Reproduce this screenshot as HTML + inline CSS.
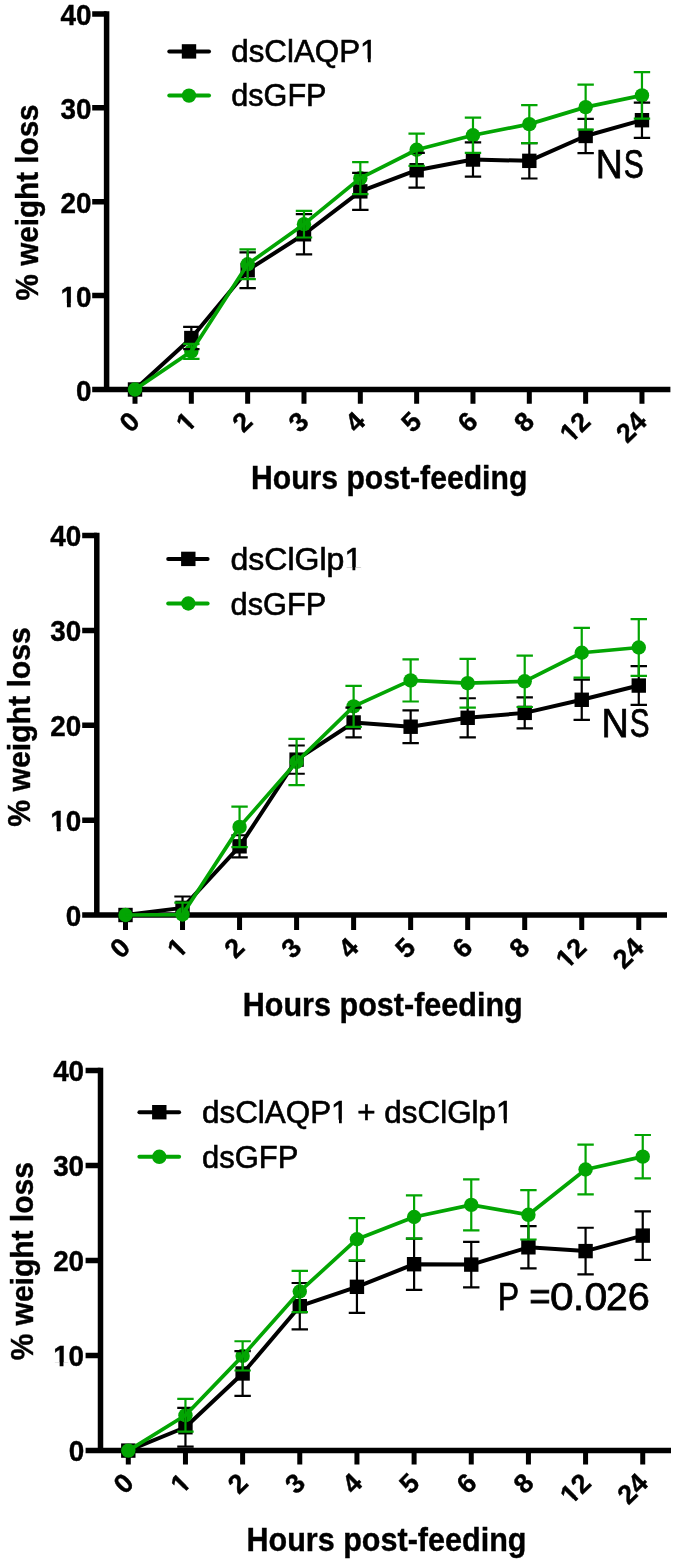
<!DOCTYPE html>
<html><head><meta charset="utf-8"><title>Weight loss</title>
<style>
html,body{margin:0;padding:0;background:#fff;}
body{width:675px;height:1564px;overflow:hidden;}
svg{display:block;will-change:transform;}
text{font-family:"Liberation Sans",sans-serif;fill:#000;stroke:#000;stroke-width:0.6px;}
text.b{font-weight:bold;stroke-width:0.4px;}
text.n{stroke-width:0.75px;}
</style></head>
<body>
<svg width="675" height="1564" viewBox="0 0 675 1564">
<rect width="675" height="1564" fill="#fff"/>
<path d="M106.6 11.15V392.25M92.2 389.5H670.4" stroke="#000" stroke-width="5.5" fill="none"/>
<path d="M92.2 295.6H106.6M92.2 201.7H106.6M92.2 107.8H106.6M92.2 13.9H106.6" stroke="#000" stroke-width="5.5"/>
<path d="M135 389.5V403.8M191.33 389.5V403.8M247.66 389.5V403.8M303.99 389.5V403.8M360.32 389.5V403.8M416.65 389.5V403.8M472.98 389.5V403.8M529.31 389.5V403.8M585.64 389.5V403.8M641.97 389.5V403.8" stroke="#000" stroke-width="5"/>
<text x="75.94" y="400.6" class="b" font-size="29.5" textLength="15.5" lengthAdjust="spacingAndGlyphs">0</text>
<text x="60.44" y="306.7" class="b" font-size="29.5" textLength="31.01" lengthAdjust="spacingAndGlyphs">10</text>
<rect x="60.99" y="302.89" width="5.95" height="5.61" fill="#fff"/>
<rect x="70.77" y="302.89" width="5.5" height="5.61" fill="#fff"/>
<text x="60.44" y="212.8" class="b" font-size="29.5" textLength="31.01" lengthAdjust="spacingAndGlyphs">20</text>
<text x="60.44" y="118.9" class="b" font-size="29.5" textLength="31.01" lengthAdjust="spacingAndGlyphs">30</text>
<text x="60.44" y="25" class="b" font-size="29.5" textLength="31.01" lengthAdjust="spacingAndGlyphs">40</text>
<g transform="translate(141.5 423) rotate(-45)"><text class="b" font-size="27" text-anchor="end">0</text>
</g>
<g transform="translate(197.83 423) rotate(-45)"><text class="b" font-size="27" text-anchor="end">1</text>
<rect x="-14.52" y="-3.56" width="5.8" height="5.36" fill="#fff"/>
<rect x="-5.01" y="-3.56" width="5.36" height="5.36" fill="#fff"/>
</g>
<g transform="translate(254.16 423) rotate(-45)"><text class="b" font-size="27" text-anchor="end">2</text>
</g>
<g transform="translate(310.49 423) rotate(-45)"><text class="b" font-size="27" text-anchor="end">3</text>
</g>
<g transform="translate(366.82 423) rotate(-45)"><text class="b" font-size="27" text-anchor="end">4</text>
</g>
<g transform="translate(423.15 423) rotate(-45)"><text class="b" font-size="27" text-anchor="end">5</text>
</g>
<g transform="translate(479.48 423) rotate(-45)"><text class="b" font-size="27" text-anchor="end">6</text>
</g>
<g transform="translate(535.81 423) rotate(-45)"><text class="b" font-size="27" text-anchor="end">8</text>
</g>
<g transform="translate(592.14 423) rotate(-45)"><text class="b" font-size="27" text-anchor="end">12</text>
<rect x="-29.53" y="-3.56" width="5.8" height="5.36" fill="#fff"/>
<rect x="-20.03" y="-3.56" width="5.36" height="5.36" fill="#fff"/>
</g>
<g transform="translate(648.47 423) rotate(-45)"><text class="b" font-size="27" text-anchor="end">24</text>
</g>
<text x="250.98" y="488.8" class="b" font-size="33" textLength="276.33" lengthAdjust="spacingAndGlyphs">Hours post-feeding</text>
<text x="0" y="0" class="b" font-size="30.6" textLength="196.05" lengthAdjust="spacingAndGlyphs" transform="translate(37.7 300.44) rotate(-90)">% weight loss</text>
<path d="M169.3 51.4H209" stroke="#000" stroke-width="4.0" stroke-linecap="round"/>
<rect x="181.8" y="44.2" width="14.4" height="14.4" fill="#000"/>
<text x="231.29" y="61.8" font-size="30.6" textLength="146.19" lengthAdjust="spacingAndGlyphs">dsClAQP1</text>
<rect x="361.24" y="58.71" width="6.69" height="4.89" fill="#fff"/>
<rect x="370.7" y="58.71" width="6.34" height="4.89" fill="#fff"/>
<path d="M169.3 95.6H209" stroke="#03a503" stroke-width="4.0" stroke-linecap="round"/>
<circle cx="189" cy="95.6" r="7.2" fill="#03a503"/>
<text x="231.32" y="106.2" font-size="30.6" textLength="95.2" lengthAdjust="spacingAndGlyphs">dsGFP</text>
<polyline points="135,389.5 191.33,338.04 247.66,270.25 303.99,234.28 360.32,191.37 416.65,170.24 472.98,159.54 529.31,160.85 585.64,135.97 641.97,120.19" stroke="#000" stroke-width="4.0" fill="none" stroke-linejoin="round"/>
<rect x="127.8" y="382.3" width="14.4" height="14.4" fill="#000"/>
<rect x="184.13" y="330.84" width="14.4" height="14.4" fill="#000"/>
<rect x="240.46" y="263.05" width="14.4" height="14.4" fill="#000"/>
<rect x="296.79" y="227.08" width="14.4" height="14.4" fill="#000"/>
<rect x="353.12" y="184.17" width="14.4" height="14.4" fill="#000"/>
<rect x="409.45" y="163.04" width="14.4" height="14.4" fill="#000"/>
<rect x="465.78" y="152.34" width="14.4" height="14.4" fill="#000"/>
<rect x="522.11" y="153.65" width="14.4" height="14.4" fill="#000"/>
<rect x="578.44" y="128.77" width="14.4" height="14.4" fill="#000"/>
<rect x="634.77" y="112.99" width="14.4" height="14.4" fill="#000"/>
<circle cx="135" cy="389.5" r="7.2" fill="#03a503"/>
<circle cx="191.33" cy="351.38" r="7.2" fill="#03a503"/>
<circle cx="247.66" cy="264.24" r="7.2" fill="#03a503"/>
<circle cx="303.99" cy="224.14" r="7.2" fill="#03a503"/>
<circle cx="360.32" cy="178.13" r="7.2" fill="#03a503"/>
<circle cx="416.65" cy="149.77" r="7.2" fill="#03a503"/>
<circle cx="472.98" cy="135.22" r="7.2" fill="#03a503"/>
<circle cx="529.31" cy="124.14" r="7.2" fill="#03a503"/>
<circle cx="585.64" cy="107.14" r="7.2" fill="#03a503"/>
<circle cx="641.97" cy="95.41" r="7.2" fill="#03a503"/>
<path d="M191.33 326.87V349.22M183.13 326.87h16.4M183.13 349.22h16.4M247.66 252.41V288.09M239.46 252.41h16.4M239.46 288.09h16.4M303.99 214.09V254.47M295.79 214.09h16.4M295.79 254.47h16.4M360.32 172.78V209.96M352.12 172.78h16.4M352.12 209.96h16.4M416.65 152.87V187.61M408.45 152.87h16.4M408.45 187.61h16.4M472.98 142.45V176.63M464.78 142.45h16.4M464.78 176.63h16.4M529.31 143.2V178.51M521.11 143.2h16.4M521.11 178.51h16.4M585.64 118.88V153.06M577.44 118.88h16.4M577.44 153.06h16.4M641.97 102.54V137.85M633.77 102.54h16.4M633.77 137.85h16.4" stroke="#000" stroke-width="2.2" fill="none"/>
<path d="M191.33 343.96V358.79M183.13 343.96h16.4M183.13 358.79h16.4M247.66 249.4V279.07M239.46 249.4h16.4M239.46 279.07h16.4M303.99 210.81V237.48M295.79 210.81h16.4M295.79 237.48h16.4M360.32 162.07V194.19M352.12 162.07h16.4M352.12 194.19h16.4M416.65 133.72V165.83M408.45 133.72h16.4M408.45 165.83h16.4M472.98 117.66V152.78M464.78 117.66h16.4M464.78 152.78h16.4M529.31 105.08V143.2M521.11 105.08h16.4M521.11 143.2h16.4M585.64 84.61V129.68M577.44 84.61h16.4M577.44 129.68h16.4M641.97 72.21V118.6M633.77 72.21h16.4M633.77 118.6h16.4" stroke="#03a503" stroke-width="2.2" fill="none"/>
<polyline points="135,389.5 191.33,351.38 247.66,264.24 303.99,224.14 360.32,178.13 416.65,149.77 472.98,135.22 529.31,124.14 585.64,107.14 641.97,95.41" stroke="#03a503" stroke-width="3.7" fill="none" stroke-linejoin="round"/>
<text class="n" y="177.8" font-size="40"><tspan x="595.83" textLength="27.02" lengthAdjust="spacingAndGlyphs">N</tspan><tspan x="623.74" textLength="20.04" lengthAdjust="spacingAndGlyphs">S</tspan></text>
<path d="M96.8 532.85V917.75M82.2 915H667" stroke="#000" stroke-width="5.5" fill="none"/>
<path d="M82.2 820.15H96.8M82.2 725.3H96.8M82.2 630.45H96.8M82.2 535.6H96.8" stroke="#000" stroke-width="5.5"/>
<path d="M125.5 915V930M182.53 915V930M239.56 915V930M296.59 915V930M353.62 915V930M410.65 915V930M467.68 915V930M524.71 915V930M581.74 915V930M638.77 915V930" stroke="#000" stroke-width="5"/>
<text x="65.84" y="925.6" class="b" font-size="29.5" textLength="15.5" lengthAdjust="spacingAndGlyphs">0</text>
<text x="50.34" y="830.75" class="b" font-size="29.5" textLength="31.01" lengthAdjust="spacingAndGlyphs">10</text>
<rect x="50.89" y="826.94" width="5.95" height="5.61" fill="#fff"/>
<rect x="60.67" y="826.94" width="5.5" height="5.61" fill="#fff"/>
<text x="50.34" y="735.9" class="b" font-size="29.5" textLength="31.01" lengthAdjust="spacingAndGlyphs">20</text>
<text x="50.34" y="641.05" class="b" font-size="29.5" textLength="31.01" lengthAdjust="spacingAndGlyphs">30</text>
<text x="50.34" y="546.2" class="b" font-size="29.5" textLength="31.01" lengthAdjust="spacingAndGlyphs">40</text>
<g transform="translate(132 949) rotate(-45)"><text class="b" font-size="27" text-anchor="end">0</text>
</g>
<g transform="translate(189.03 949) rotate(-45)"><text class="b" font-size="27" text-anchor="end">1</text>
<rect x="-14.52" y="-3.56" width="5.8" height="5.36" fill="#fff"/>
<rect x="-5.01" y="-3.56" width="5.36" height="5.36" fill="#fff"/>
</g>
<g transform="translate(246.06 949) rotate(-45)"><text class="b" font-size="27" text-anchor="end">2</text>
</g>
<g transform="translate(303.09 949) rotate(-45)"><text class="b" font-size="27" text-anchor="end">3</text>
</g>
<g transform="translate(360.12 949) rotate(-45)"><text class="b" font-size="27" text-anchor="end">4</text>
</g>
<g transform="translate(417.15 949) rotate(-45)"><text class="b" font-size="27" text-anchor="end">5</text>
</g>
<g transform="translate(474.18 949) rotate(-45)"><text class="b" font-size="27" text-anchor="end">6</text>
</g>
<g transform="translate(531.21 949) rotate(-45)"><text class="b" font-size="27" text-anchor="end">8</text>
</g>
<g transform="translate(588.24 949) rotate(-45)"><text class="b" font-size="27" text-anchor="end">12</text>
<rect x="-29.53" y="-3.56" width="5.8" height="5.36" fill="#fff"/>
<rect x="-20.03" y="-3.56" width="5.36" height="5.36" fill="#fff"/>
</g>
<g transform="translate(645.27 949) rotate(-45)"><text class="b" font-size="27" text-anchor="end">24</text>
</g>
<text x="242.76" y="1016.1" class="b" font-size="33.3" textLength="279.99" lengthAdjust="spacingAndGlyphs">Hours post-feeding</text>
<text x="0" y="0" class="b" font-size="31.7" textLength="199.59" lengthAdjust="spacingAndGlyphs" transform="translate(30 826.75) rotate(-90)">% weight loss</text>
<path d="M168.2 558.9H207.6" stroke="#000" stroke-width="4.0" stroke-linecap="round"/>
<rect x="181.1" y="551.7" width="14.4" height="14.4" fill="#000"/>
<text x="230.56" y="570.3" font-size="30.6" textLength="131.67" lengthAdjust="spacingAndGlyphs">dsClGlp1</text>
<rect x="345.66" y="567.21" width="6.81" height="4.89" fill="#fff"/>
<rect x="355.3" y="567.21" width="6.46" height="4.89" fill="#fff"/>
<path d="M168.2 603.5H207.6" stroke="#03a503" stroke-width="4.0" stroke-linecap="round"/>
<circle cx="188.3" cy="603.5" r="7.2" fill="#03a503"/>
<text x="230.61" y="614.8" font-size="30.6" textLength="95.71" lengthAdjust="spacingAndGlyphs">dsGFP</text>
<polyline points="125.5,915 182.53,907.89 239.56,846.33 296.59,759.64 353.62,722.45 410.65,726.72 467.68,717.81 524.71,712.87 581.74,699.79 638.77,685.56" stroke="#000" stroke-width="4.0" fill="none" stroke-linejoin="round"/>
<rect x="118.3" y="907.8" width="14.4" height="14.4" fill="#000"/>
<rect x="175.33" y="900.69" width="14.4" height="14.4" fill="#000"/>
<rect x="232.36" y="839.13" width="14.4" height="14.4" fill="#000"/>
<rect x="289.39" y="752.44" width="14.4" height="14.4" fill="#000"/>
<rect x="346.42" y="715.25" width="14.4" height="14.4" fill="#000"/>
<rect x="403.45" y="719.52" width="14.4" height="14.4" fill="#000"/>
<rect x="460.48" y="710.61" width="14.4" height="14.4" fill="#000"/>
<rect x="517.51" y="705.67" width="14.4" height="14.4" fill="#000"/>
<rect x="574.54" y="692.59" width="14.4" height="14.4" fill="#000"/>
<rect x="631.57" y="678.36" width="14.4" height="14.4" fill="#000"/>
<circle cx="125.5" cy="915" r="7.2" fill="#03a503"/>
<circle cx="182.53" cy="914.53" r="7.2" fill="#03a503"/>
<circle cx="239.56" cy="826.88" r="7.2" fill="#03a503"/>
<circle cx="296.59" cy="762.01" r="7.2" fill="#03a503"/>
<circle cx="353.62" cy="706.33" r="7.2" fill="#03a503"/>
<circle cx="410.65" cy="680.44" r="7.2" fill="#03a503"/>
<circle cx="467.68" cy="683.19" r="7.2" fill="#03a503"/>
<circle cx="524.71" cy="681.29" r="7.2" fill="#03a503"/>
<circle cx="581.74" cy="652.74" r="7.2" fill="#03a503"/>
<circle cx="638.77" cy="647.52" r="7.2" fill="#03a503"/>
<path d="M182.53 896.5V915M174.33 896.5h16.4M239.56 835.23V857.43M231.36 835.23h16.4M231.36 857.43h16.4M296.59 745.5V773.77M288.39 745.5h16.4M288.39 773.77h16.4M353.62 707.56V737.35M345.42 707.56h16.4M345.42 737.35h16.4M410.65 710.41V743.04M402.45 710.41h16.4M402.45 743.04h16.4M467.68 698.27V737.35M459.48 698.27h16.4M459.48 737.35h16.4M524.71 697.41V728.34M516.51 697.41h16.4M516.51 728.34h16.4M581.74 679.68V719.89M573.54 679.68h16.4M573.54 719.89h16.4M638.77 666.21V704.91M630.57 666.21h16.4M630.57 704.91h16.4" stroke="#000" stroke-width="2.2" fill="none"/>
<path d="M182.53 902.67V915M174.33 902.67h16.4M239.56 806.68V847.09M231.36 806.68h16.4M231.36 847.09h16.4M296.59 738.86V785.15M288.39 738.86h16.4M288.39 785.15h16.4M353.62 685.84V726.82M345.42 685.84h16.4M345.42 726.82h16.4M410.65 659.38V701.49M402.45 659.38h16.4M402.45 701.49h16.4M467.68 658.81V707.56M459.48 658.81h16.4M459.48 707.56h16.4M524.71 655.59V706.99M516.51 655.59h16.4M516.51 706.99h16.4M581.74 627.89V677.59M573.54 627.89h16.4M573.54 677.59h16.4M638.77 619.16V675.88M630.57 619.16h16.4M630.57 675.88h16.4" stroke="#03a503" stroke-width="2.2" fill="none"/>
<polyline points="125.5,915 182.53,914.53 239.56,826.88 296.59,762.01 353.62,706.33 410.65,680.44 467.68,683.19 524.71,681.29 581.74,652.74 638.77,647.52" stroke="#03a503" stroke-width="3.7" fill="none" stroke-linejoin="round"/>
<text class="n" y="737.3" font-size="40"><tspan x="601.5" textLength="27.28" lengthAdjust="spacingAndGlyphs">N</tspan><tspan x="629.85" textLength="19.81" lengthAdjust="spacingAndGlyphs">S</tspan></text>
<path d="M100.5 1067.85V1453.35M85.6 1450.6H671" stroke="#000" stroke-width="5.5" fill="none"/>
<path d="M85.6 1355.6H100.5M85.6 1260.6H100.5M85.6 1165.6H100.5M85.6 1070.6H100.5" stroke="#000" stroke-width="5.5"/>
<path d="M128.3 1450.6V1464.4M185.46 1450.6V1464.4M242.62 1450.6V1464.4M299.78 1450.6V1464.4M356.94 1450.6V1464.4M414.1 1450.6V1464.4M471.26 1450.6V1464.4M528.42 1450.6V1464.4M585.58 1450.6V1464.4M642.74 1450.6V1464.4" stroke="#000" stroke-width="5"/>
<text x="68.64" y="1461.2" class="b" font-size="29.5" textLength="15.5" lengthAdjust="spacingAndGlyphs">0</text>
<text x="53.14" y="1366.2" class="b" font-size="29.5" textLength="31.01" lengthAdjust="spacingAndGlyphs">10</text>
<rect x="53.69" y="1362.39" width="5.95" height="5.61" fill="#fff"/>
<rect x="63.47" y="1362.39" width="5.5" height="5.61" fill="#fff"/>
<text x="53.14" y="1271.2" class="b" font-size="29.5" textLength="31.01" lengthAdjust="spacingAndGlyphs">20</text>
<text x="53.14" y="1176.2" class="b" font-size="29.5" textLength="31.01" lengthAdjust="spacingAndGlyphs">30</text>
<text x="53.14" y="1081.2" class="b" font-size="29.5" textLength="31.01" lengthAdjust="spacingAndGlyphs">40</text>
<g transform="translate(135.3 1484.6) rotate(-45)"><text class="b" font-size="27" text-anchor="end">0</text>
</g>
<g transform="translate(192.46 1484.6) rotate(-45)"><text class="b" font-size="27" text-anchor="end">1</text>
<rect x="-14.52" y="-3.56" width="5.8" height="5.36" fill="#fff"/>
<rect x="-5.01" y="-3.56" width="5.36" height="5.36" fill="#fff"/>
</g>
<g transform="translate(249.62 1484.6) rotate(-45)"><text class="b" font-size="27" text-anchor="end">2</text>
</g>
<g transform="translate(306.78 1484.6) rotate(-45)"><text class="b" font-size="27" text-anchor="end">3</text>
</g>
<g transform="translate(363.94 1484.6) rotate(-45)"><text class="b" font-size="27" text-anchor="end">4</text>
</g>
<g transform="translate(421.1 1484.6) rotate(-45)"><text class="b" font-size="27" text-anchor="end">5</text>
</g>
<g transform="translate(478.26 1484.6) rotate(-45)"><text class="b" font-size="27" text-anchor="end">6</text>
</g>
<g transform="translate(535.42 1484.6) rotate(-45)"><text class="b" font-size="27" text-anchor="end">8</text>
</g>
<g transform="translate(592.58 1484.6) rotate(-45)"><text class="b" font-size="27" text-anchor="end">12</text>
<rect x="-29.53" y="-3.56" width="5.8" height="5.36" fill="#fff"/>
<rect x="-20.03" y="-3.56" width="5.36" height="5.36" fill="#fff"/>
</g>
<g transform="translate(649.74 1484.6) rotate(-45)"><text class="b" font-size="27" text-anchor="end">24</text>
</g>
<text x="246.46" y="1551.3" class="b" font-size="33.3" textLength="279.99" lengthAdjust="spacingAndGlyphs">Hours post-feeding</text>
<text x="0" y="0" class="b" font-size="31.5" textLength="198.18" lengthAdjust="spacingAndGlyphs" transform="translate(33.3 1360.35) rotate(-90)">% weight loss</text>
<path d="M139.4 1112.2H179.1" stroke="#000" stroke-width="4.0" stroke-linecap="round"/>
<rect x="152.1" y="1105" width="14.4" height="14.4" fill="#000"/>
<text x="201.98" y="1122.7" font-size="30.6" textLength="311.51" lengthAdjust="spacingAndGlyphs">dsClAQP1 + dsClGlp1</text>
<rect x="332.3" y="1119.61" width="6.7" height="4.89" fill="#fff"/>
<rect x="341.78" y="1119.61" width="6.36" height="4.89" fill="#fff"/>
<rect x="497.22" y="1119.61" width="6.7" height="4.89" fill="#fff"/>
<rect x="506.7" y="1119.61" width="6.36" height="4.89" fill="#fff"/>
<path d="M139.4 1156.8H179.1" stroke="#03a503" stroke-width="4.0" stroke-linecap="round"/>
<circle cx="159.3" cy="1156.8" r="7.2" fill="#03a503"/>
<text x="202" y="1167.7" font-size="30.6" textLength="96.33" lengthAdjust="spacingAndGlyphs">dsGFP</text>
<polyline points="128.3,1450.6 185.46,1427.23 242.62,1373.46 299.78,1306.2 356.94,1286.82 414.1,1264.21 471.26,1264.59 528.42,1247.3 585.58,1251.1 642.74,1235.62" stroke="#000" stroke-width="4.0" fill="none" stroke-linejoin="round"/>
<rect x="121.1" y="1443.4" width="14.4" height="14.4" fill="#000"/>
<rect x="178.26" y="1420.03" width="14.4" height="14.4" fill="#000"/>
<rect x="235.42" y="1366.26" width="14.4" height="14.4" fill="#000"/>
<rect x="292.58" y="1299" width="14.4" height="14.4" fill="#000"/>
<rect x="349.74" y="1279.62" width="14.4" height="14.4" fill="#000"/>
<rect x="406.9" y="1257.01" width="14.4" height="14.4" fill="#000"/>
<rect x="464.06" y="1257.39" width="14.4" height="14.4" fill="#000"/>
<rect x="521.22" y="1240.1" width="14.4" height="14.4" fill="#000"/>
<rect x="578.38" y="1243.9" width="14.4" height="14.4" fill="#000"/>
<rect x="635.54" y="1228.41" width="14.4" height="14.4" fill="#000"/>
<circle cx="128.3" cy="1450.6" r="7.2" fill="#03a503"/>
<circle cx="185.46" cy="1415.26" r="7.2" fill="#03a503"/>
<circle cx="242.62" cy="1355.88" r="7.2" fill="#03a503"/>
<circle cx="299.78" cy="1291.47" r="7.2" fill="#03a503"/>
<circle cx="356.94" cy="1239.22" r="7.2" fill="#03a503"/>
<circle cx="414.1" cy="1216.99" r="7.2" fill="#03a503"/>
<circle cx="471.26" cy="1204.83" r="7.2" fill="#03a503"/>
<circle cx="528.42" cy="1214.81" r="7.2" fill="#03a503"/>
<circle cx="585.58" cy="1169.49" r="7.2" fill="#03a503"/>
<circle cx="642.74" cy="1156.67" r="7.2" fill="#03a503"/>
<path d="M185.46 1407.85V1446.61M177.26 1407.85h16.4M177.26 1446.61h16.4M242.62 1351.04V1395.88M234.42 1351.04h16.4M234.42 1395.88h16.4M299.78 1283.02V1329.38M291.58 1283.02h16.4M291.58 1329.38h16.4M356.94 1260.79V1312.85M348.74 1260.79h16.4M348.74 1312.85h16.4M414.1 1238.56V1289.86M405.9 1238.56h16.4M405.9 1289.86h16.4M471.26 1241.79V1287.39M463.06 1241.79h16.4M463.06 1287.39h16.4M528.42 1226.21V1268.39M520.22 1226.21h16.4M520.22 1268.39h16.4M585.58 1227.73V1274.47M577.38 1227.73h16.4M577.38 1274.47h16.4M642.74 1211.29V1259.93M634.54 1211.29h16.4M634.54 1259.93h16.4" stroke="#000" stroke-width="2.2" fill="none"/>
<path d="M185.46 1398.92V1431.6M177.26 1398.92h16.4M177.26 1431.6h16.4M242.62 1341.25V1370.51M234.42 1341.25h16.4M234.42 1370.51h16.4M299.78 1270.86V1312.09M291.58 1270.86h16.4M291.58 1312.09h16.4M356.94 1218.13V1260.31M348.74 1218.13h16.4M348.74 1260.31h16.4M414.1 1195.43V1238.56M405.9 1195.43h16.4M405.9 1238.56h16.4M471.26 1179.28V1230.39M463.06 1179.28h16.4M463.06 1230.39h16.4M528.42 1190.11V1239.51M520.22 1190.11h16.4M520.22 1239.51h16.4M585.58 1144.61V1194.38M577.38 1144.61h16.4M577.38 1194.38h16.4M642.74 1135.01V1178.33M634.54 1135.01h16.4M634.54 1178.33h16.4" stroke="#03a503" stroke-width="2.2" fill="none"/>
<polyline points="128.3,1450.6 185.46,1415.26 242.62,1355.88 299.78,1291.47 356.94,1239.22 414.1,1216.99 471.26,1204.83 528.42,1214.81 585.58,1169.49 642.74,1156.67" stroke="#03a503" stroke-width="3.7" fill="none" stroke-linejoin="round"/>
<text class="n" y="1310.3" font-size="39"><tspan x="497.74" textLength="20.8" lengthAdjust="spacingAndGlyphs">P</tspan><tspan> </tspan><tspan x="529.31" textLength="21.4" lengthAdjust="spacingAndGlyphs">=</tspan><tspan x="550.04" textLength="23.62" lengthAdjust="spacingAndGlyphs">0</tspan><tspan x="573.06" textLength="11.09" lengthAdjust="spacingAndGlyphs">.</tspan><tspan x="584.4" textLength="22.8" lengthAdjust="spacingAndGlyphs">0</tspan><tspan x="605.93" textLength="21.73" lengthAdjust="spacingAndGlyphs">2</tspan><tspan x="627.89" textLength="22.06" lengthAdjust="spacingAndGlyphs">6</tspan></text>
</svg>
</body></html>
